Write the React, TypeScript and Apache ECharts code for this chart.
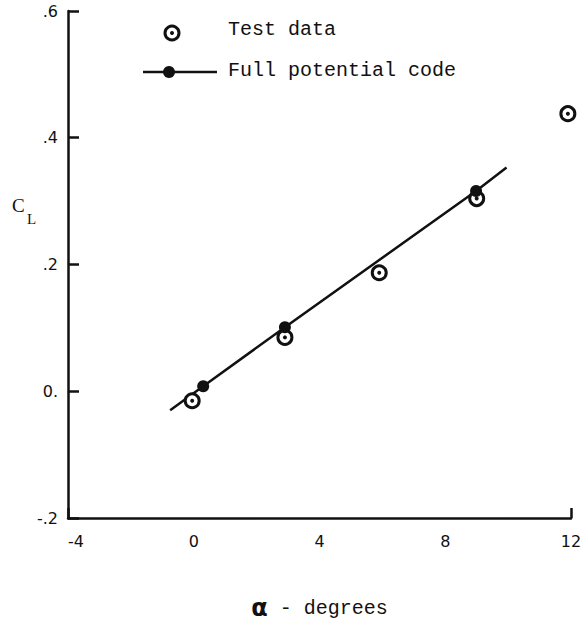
import React, { useEffect, useRef } from "react";
import * as echarts from "echarts";

// Test data (open circle with centre dot)
const testAlpha = [-0.05, 2.9, 5.9, 9.0, 11.9];
const testCL = [-0.015, 0.085, 0.187, 0.304, 0.438];

// Full potential code (line, filled dots at computed points)
const codeAlpha = [-0.75, 0.3, 2.9, 8.98, 9.95];
const codeCL = [-0.03, 0.008, 0.101, 0.316, 0.353];
const codeMarked = [false, true, true, true, false];

const xTickValues = [-4, 0, 4, 8, 12];
const xTickLabels = ["-4", "0", "4", "8", "12"];
const yTickValues = [-0.2, 0, 0.2, 0.4, 0.6];
const yTickLabels = ["-.2", "0.", ".2", ".4", ".6"];

const INK = "#111";

function nearestLabel(v: number, values: number[], labels: string[]) {
  let best = 0;
  for (let i = 1; i < values.length; i++) {
    if (Math.abs(values[i] - v) < Math.abs(values[best] - v)) best = i;
  }
  return labels[best];
}

export default function App() {
  const ref = useRef<HTMLDivElement>(null);

  useEffect(() => {
    if (!ref.current) return;
    const chart = echarts.init(ref.current, null, { renderer: "svg" });

    const codeLine = codeAlpha.map((a, i) => [a, codeCL[i]]);
    const codeDots = codeAlpha
      .map((a, i) => [a, codeCL[i]])
      .filter((_, i) => codeMarked[i]);
    const testPts = testAlpha.map((a, i) => [a, testCL[i]]);

    const option: any = {
      animation: false,
      backgroundColor: "#fff",
      grid: { left: 68, right: 16, top: 11, bottom: 106, containLabel: false },
      xAxis: [
        {
          type: "value",
          min: -4,
          max: 12,
          interval: 4,
          name: "{a|α}{b| - degrees}",
          nameLocation: "middle",
          nameGap: 78,
          nameTextStyle: {
            rich: {
              a: { fontFamily: "DejaVu Sans", fontWeight: "bold", fontSize: 24, color: INK },
              b: { fontFamily: "Liberation Mono", fontSize: 20, color: INK },
            },
          },
          axisLine: { show: true, onZero: false, lineStyle: { color: INK, width: 2.5 } },
          axisTick: { show: false },
          splitLine: { show: false },
          axisLabel: {
            color: INK,
            fontFamily: "DejaVu Sans",
            fontSize: 16,
            margin: 15,
            alignMinLabel: "left",
            formatter: (v: number) => nearestLabel(v, xTickValues, xTickLabels),
          },
        },
        {
          type: "value",
          position: "bottom",
          min: -4,
          max: 12,
          interval: 16,
          axisLine: { show: false, onZero: false },
          axisTick: { show: true, inside: true, length: 10, lineStyle: { color: INK, width: 2.5 } },
          axisLabel: { show: false },
          splitLine: { show: false },
        },
      ],
      yAxis: {
        type: "value",
        min: -0.2,
        max: 0.6,
        interval: 0.2,
        axisLine: { show: true, onZero: false, lineStyle: { color: INK, width: 2.5 } },
        axisTick: { show: true, inside: true, length: 11, lineStyle: { color: INK, width: 2.5 } },
        splitLine: { show: false },
        axisLabel: {
          color: INK,
          fontFamily: "DejaVu Sans",
          fontSize: 16,
          margin: 10,
          formatter: (v: number) => nearestLabel(v, yTickValues, yTickLabels),
        },
      },
      series: [
        {
          name: "Full potential code",
          type: "line",
          data: codeLine,
          symbol: "none",
          lineStyle: { color: INK, width: 2.5 },
          z: 2,
          silent: true,
        },
        {
          name: "Test data",
          type: "scatter",
          data: testPts,
          symbol: "circle",
          symbolSize: 14,
          clip: false,
          itemStyle: { color: "#fff", borderColor: INK, borderWidth: 3, opacity: 1 },
          z: 3,
          silent: true,
        },
        {
          name: "Test data centre",
          type: "scatter",
          data: testPts,
          symbol: "circle",
          symbolSize: 4,
          clip: false,
          itemStyle: { color: INK, opacity: 1 },
          z: 4,
          silent: true,
        },
        {
          name: "Full potential code points",
          type: "scatter",
          data: codeDots,
          symbol: "circle",
          symbolSize: 12,
          clip: false,
          itemStyle: { color: INK, opacity: 1 },
          z: 5,
          silent: true,
        },
      ],
      graphic: [
        // y-axis title C_L
        {
          type: "text",
          left: 12,
          top: 196,
          style: { text: "C", font: "19px 'Liberation Serif'", fill: INK },
        },
        {
          type: "text",
          left: 27,
          top: 211,
          style: { text: "L", font: "15px 'Liberation Serif'", fill: INK },
        },
        // legend: test data
        {
          type: "circle",
          shape: { cx: 172, cy: 33, r: 7 },
          style: { fill: "#fff", stroke: INK, lineWidth: 3 },
        },
        {
          type: "circle",
          shape: { cx: 172, cy: 33, r: 2 },
          style: { fill: INK },
        },
        {
          type: "text",
          x: 228,
          y: 29,
          style: {
            text: "Test data",
            font: "20px 'Liberation Mono'",
            fill: INK,
            verticalAlign: "middle",
            align: "left",
          },
        },
        // legend: full potential code
        {
          type: "line",
          shape: { x1: 143, y1: 72, x2: 217, y2: 72 },
          style: { stroke: INK, lineWidth: 2.5 },
        },
        {
          type: "circle",
          shape: { cx: 169, cy: 72, r: 6 },
          style: { fill: INK },
        },
        {
          type: "text",
          x: 228,
          y: 70,
          style: {
            text: "Full potential code",
            font: "20px 'Liberation Mono'",
            fill: INK,
            verticalAlign: "middle",
            align: "left",
          },
        },
      ],
    };

    chart.setOption(option);
    return () => chart.dispose();
  }, []);

  return (
    <div
      ref={ref}
      style={{ position: "fixed", left: 0, top: 0, width: 587, height: 625, background: "#fff" }}
    />
  );
}
